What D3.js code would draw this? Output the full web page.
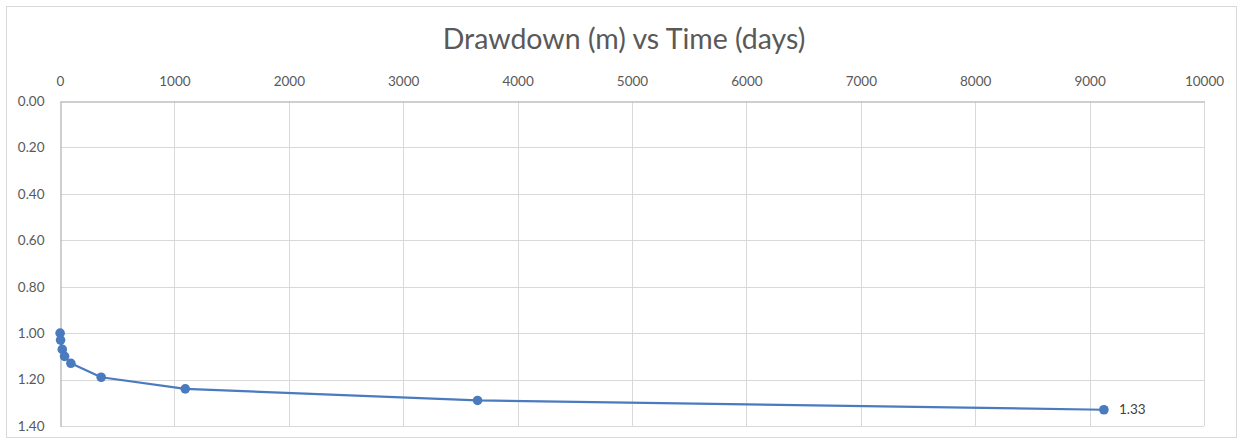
<!DOCTYPE html>
<html>
<head>
<meta charset="utf-8">
<script src="https://cdn.jsdelivr.net/npm/d3@7"></script>
<style>
  html, body { margin: 0; padding: 0; background: #ffffff; }
  svg { display: block; }
  text { font-family: "Lato", "Open Sans", "Liberation Sans", sans-serif; }
</style>
</head>
<body>
<svg id="chart" width="1242" height="442"></svg>
<script>
const titleText = "Drawdown (m) vs Time (days)";
const timeDays = [1, 5, 20, 40, 95, 360, 1095, 3650, 9125];
const drawdown = [1.00, 1.03, 1.07, 1.10, 1.13, 1.19, 1.24, 1.29, 1.33];
const xTicks = [0, 1000, 2000, 3000, 4000, 5000, 6000, 7000, 8000, 9000, 10000];
const yTicks = [0, 0.2, 0.4, 0.6, 0.8, 1.0, 1.2, 1.4];
const lastLabel = "1.33";

const svg = d3.select("#chart");
const plot = { left: 60, right: 1204, top: 101, bottom: 426 };

// outer chart border
svg.append("rect")
  .attr("x", 6.5).attr("y", 6.5)
  .attr("width", 1230).attr("height", 431)
  .attr("fill", "#ffffff").attr("stroke", "#d9d9d9").attr("stroke-width", 1);

const x = d3.scaleLinear().domain([0, 10000]).range([plot.left, plot.right]);
const y = d3.scaleLinear().domain([0, 1.4]).range([plot.top, plot.bottom]);

// gridlines
const grid = svg.append("g");
grid.selectAll("line.v").data(xTicks.slice(1)).join("line")
  .attr("x1", d => Math.round(x(d)) + 0.5).attr("x2", d => Math.round(x(d)) + 0.5)
  .attr("y1", plot.top).attr("y2", plot.bottom)
  .attr("stroke", "#d9d9d9").attr("stroke-width", 1);
grid.selectAll("line.h").data(yTicks.slice(1)).join("line")
  .attr("y1", d => Math.round(y(d)) + 0.5).attr("y2", d => Math.round(y(d)) + 0.5)
  .attr("x1", plot.left).attr("x2", plot.right)
  .attr("stroke", "#d9d9d9").attr("stroke-width", 1);

// x axis on top
const xAxis = svg.append("g")
  .attr("transform", `translate(0,${plot.top + 0.5})`)
  .call(d3.axisTop(x).tickValues(xTicks).tickSize(0).tickPadding(16).tickFormat(d3.format("d")));
xAxis.select(".domain").attr("stroke", "#bfbfbf").attr("stroke-width", 1.5);
xAxis.selectAll("text").attr("fill", "#595959").style("font-size", "13.5px");

// y axis on left
const yAxis = svg.append("g")
  .attr("transform", `translate(${plot.left + 0.5},0)`)
  .call(d3.axisLeft(y).tickValues(yTicks).tickSize(0).tickPadding(16).tickFormat(d3.format(".2f")));
yAxis.select(".domain").attr("stroke", "#bfbfbf").attr("stroke-width", 1.5);
yAxis.selectAll("text").attr("fill", "#595959").style("font-size", "13.5px");

// title
svg.append("text")
  .attr("x", 624).attr("y", 49)
  .attr("text-anchor", "middle")
  .attr("fill", "#595959")
  .style("font-size", "28.5px")
  .text(titleText);

// series
const data = timeDays.map((t, i) => ({ t, v: drawdown[i] }));
const color = "#4a7bbf";
svg.append("path")
  .datum(data)
  .attr("fill", "none")
  .attr("stroke", color)
  .attr("stroke-width", 2.25)
  .attr("stroke-linejoin", "round")
  .attr("d", d3.line().x(d => x(d.t)).y(d => y(d.v)));

svg.selectAll("circle.pt").data(data).join("circle")
  .attr("cx", d => x(d.t)).attr("cy", d => y(d.v))
  .attr("r", 4.8)
  .attr("fill", color);

// last data label
const last = data[data.length - 1];
svg.append("text")
  .attr("x", x(last.t) + 15).attr("y", y(last.v))
  .attr("dy", "0.35em")
  .attr("fill", "#404040")
  .style("font-size", "13.5px")
  .text(lastLabel);
</script>
</body>
</html>
